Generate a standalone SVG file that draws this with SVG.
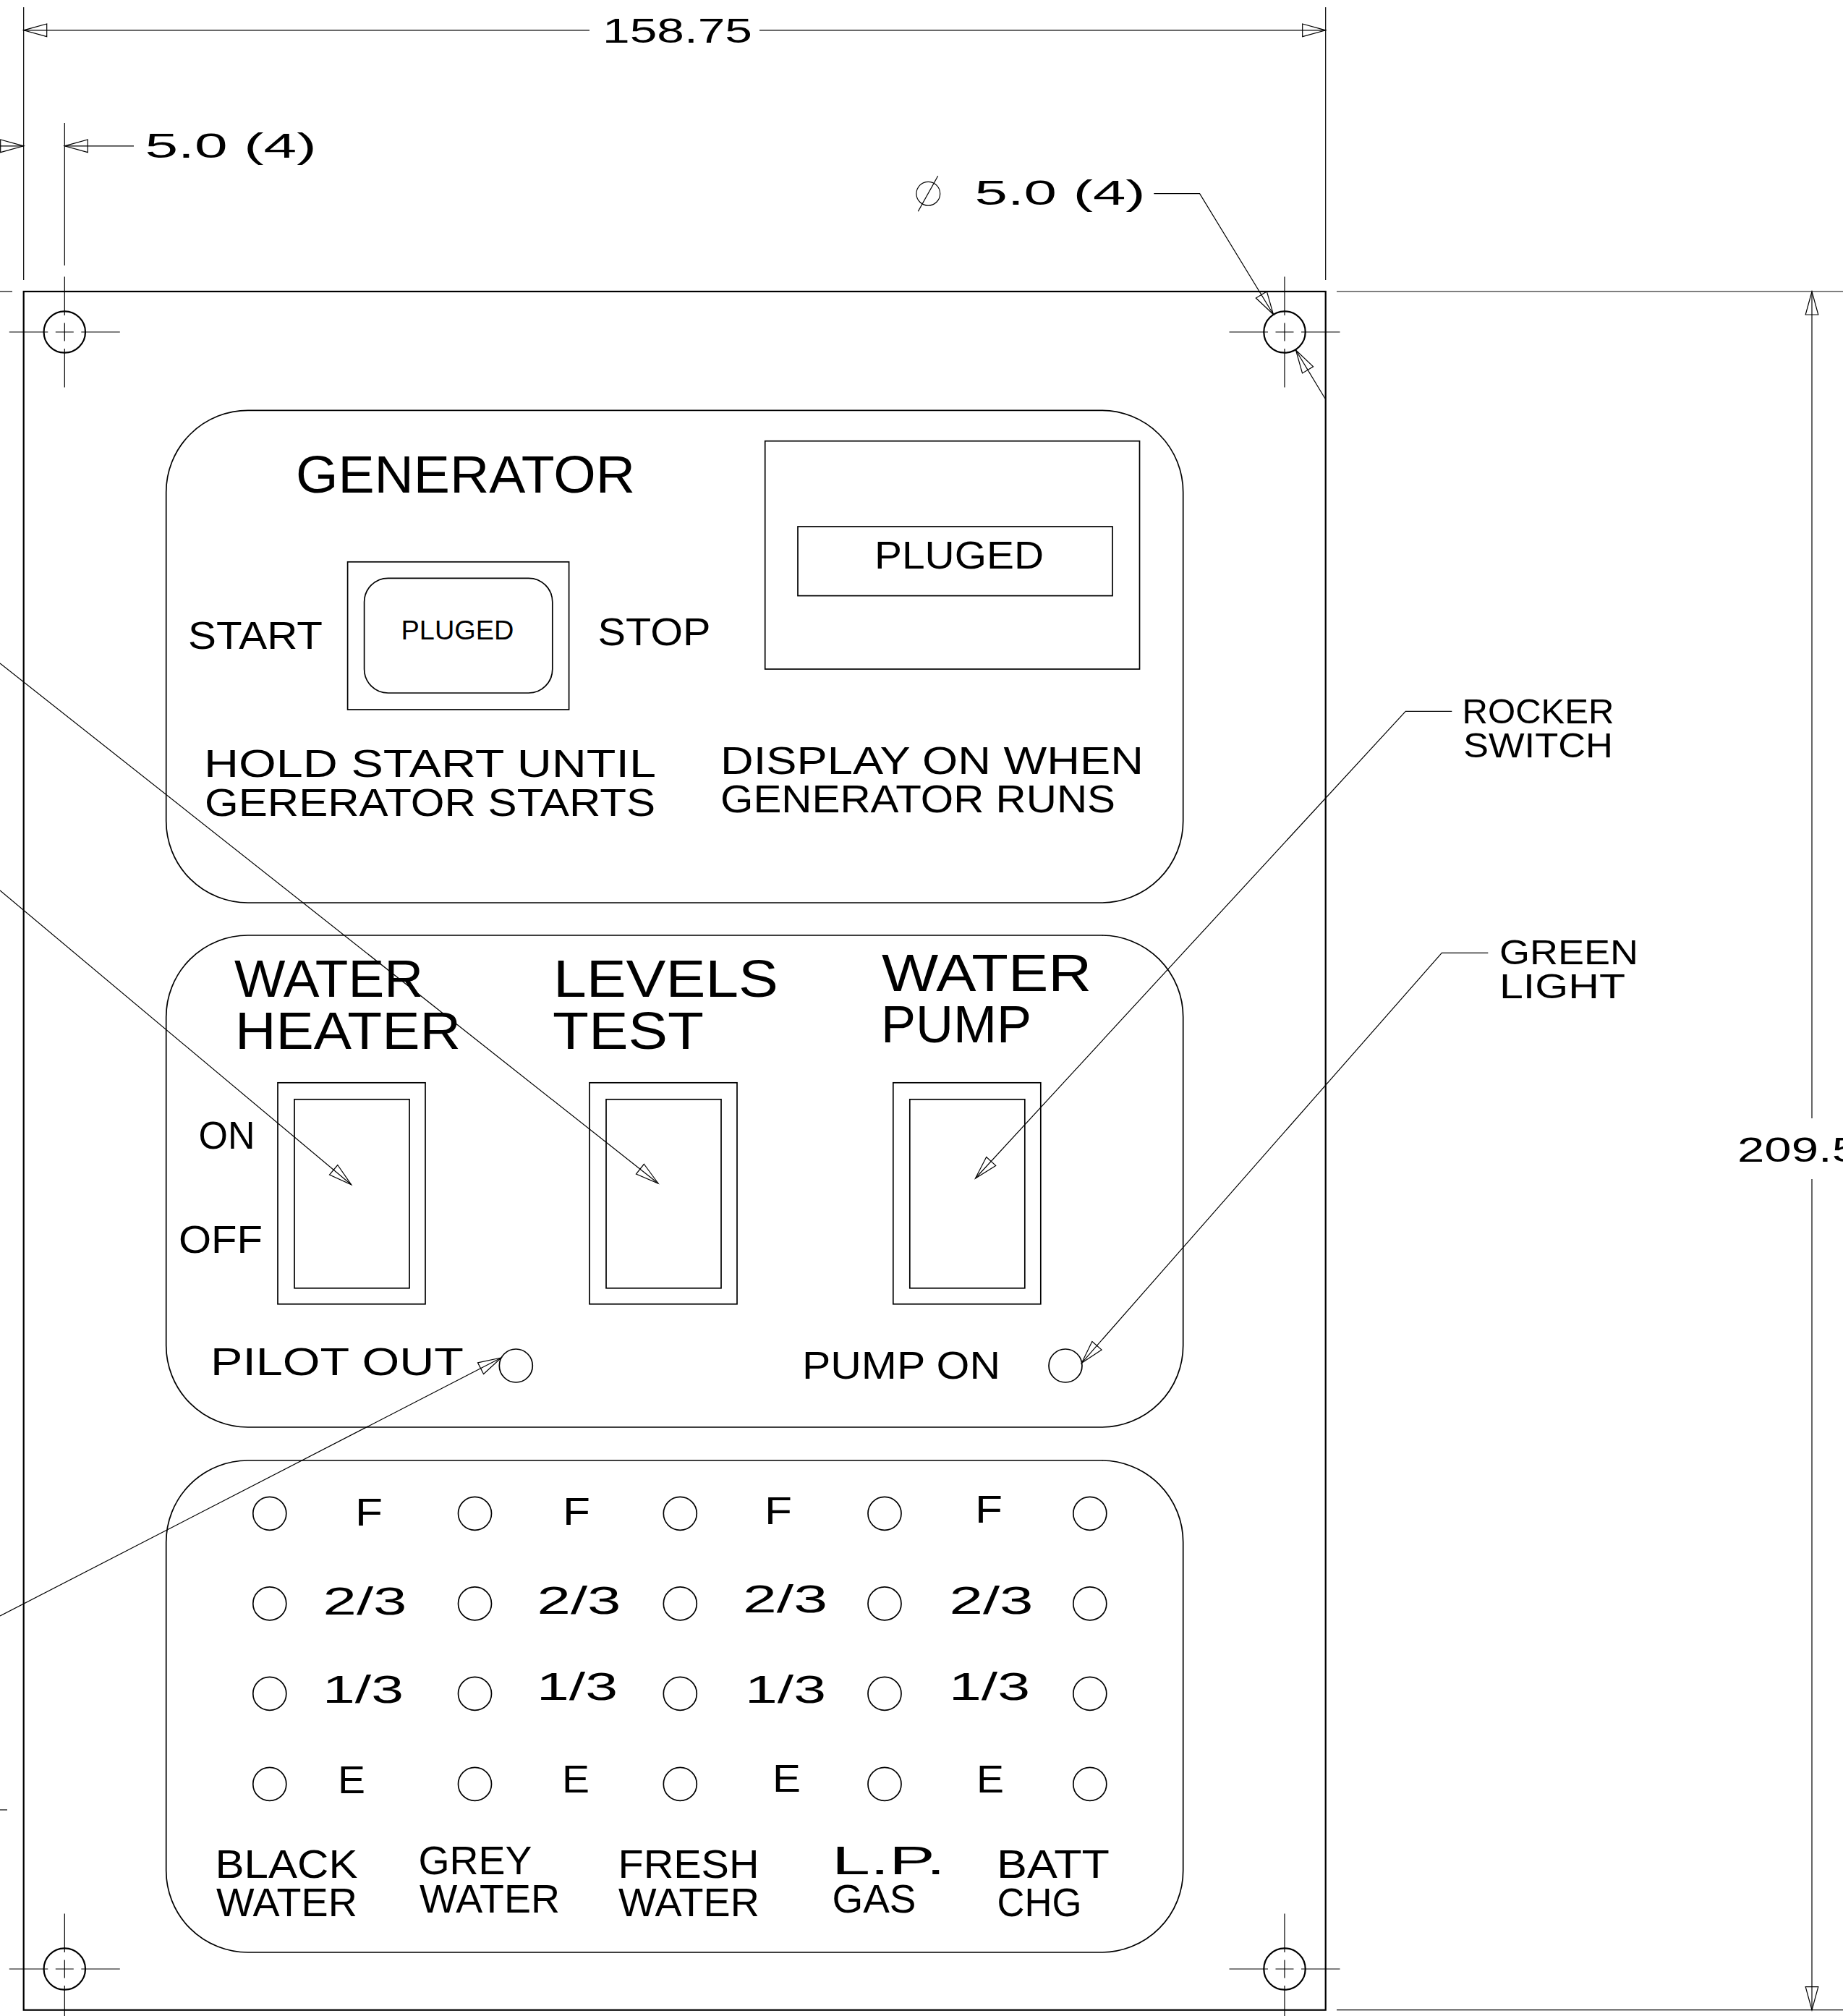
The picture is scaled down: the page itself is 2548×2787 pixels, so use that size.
<svg xmlns="http://www.w3.org/2000/svg" xmlns:xlink="http://www.w3.org/1999/xlink" width="2548" height="2787" viewBox="0 0 2548 2787">
<style>
text{font-family:"Liberation Sans",Arial,sans-serif;fill:#000}
.f35{font-size:36.5px}.f46{font-size:48px}.f51{font-size:53px}.f52{font-size:54px}.f53{font-size:55px}.f69{font-size:72px}
.o{fill:none;stroke:#000}
.s{stroke-width:2.2}.p{stroke-width:1.7}.t{stroke-width:1.2}
line,polyline{fill:none;stroke:#000;stroke-width:1.2}
.a{marker-end:url(#ah)}
</style>
<defs>
<marker id="ah" markerUnits="userSpaceOnUse" markerWidth="36" markerHeight="22" refX="32" refY="11" orient="auto" overflow="visible"><path d="M0,2.2L32,11L0,19.8Z" fill="none" stroke="#000" stroke-width="1.2"/></marker>
<g id="hole">
<circle r="28.7" class="o s"/>
<path d="M-76.5,0H-23M-12.5,0H12.5M23,0H76.5M0,-76.5V-23M0,-12.5V12.5M0,23V76.5" fill="none" stroke="#000" stroke-width="1.2"/>
</g>
<circle id="led" r="23" class="o p"/>
<g id="sw">
<rect width="204" height="306" class="o p"/>
<rect x="23" y="23" width="159" height="261" class="o p"/>
</g>
</defs>
<rect width="2548" height="2787" fill="#fff"/>

<g id="sheet"><rect x="32.7" y="403" width="1800" height="2375.7" class="o s"/></g>
<g id="hole-tl"><use href="#hole" x="89.3" y="459"/></g>
<g id="hole-tr"><use href="#hole" x="1776" y="459"/></g>
<g id="hole-bl"><use href="#hole" x="89.3" y="2722"/></g>
<g id="hole-br"><use href="#hole" x="1776" y="2722"/></g>

<g id="panel-generator">
<rect x="229.7" y="567.4" width="1406" height="680.6" rx="113" class="o p"/>
<text x="409" y="681" class="f69" textLength="469" lengthAdjust="spacingAndGlyphs">GENERATOR</text>
<rect x="480.6" y="776.8" width="306" height="204.2" class="o p"/>
<rect x="503.6" y="799.3" width="260.2" height="158.7" rx="33" class="o p"/>
<text x="554.5" y="884" class="f35" textLength="156" lengthAdjust="spacingAndGlyphs">PLUGED</text>
<text x="260" y="896.6" class="f51" textLength="186" lengthAdjust="spacingAndGlyphs">START</text>
<text x="826.5" y="892" class="f51" textLength="156" lengthAdjust="spacingAndGlyphs">STOP</text>
<text x="282" y="1074" class="f52" textLength="625" lengthAdjust="spacingAndGlyphs">HOLD START UNTIL</text>
<text x="283" y="1127.6" class="f52" textLength="623" lengthAdjust="spacingAndGlyphs">GERERATOR STARTS</text>
<rect x="1057.7" y="609.7" width="517.8" height="315.3" class="o p"/>
<rect x="1103" y="728" width="435" height="95.6" class="o p"/>
<text x="1209" y="785.5" class="f52" textLength="234" lengthAdjust="spacingAndGlyphs">PLUGED</text>
<text x="996" y="1069.7" class="f52" textLength="585" lengthAdjust="spacingAndGlyphs">DISPLAY ON WHEN</text>
<text x="996" y="1123" class="f52" textLength="546" lengthAdjust="spacingAndGlyphs">GENERATOR RUNS</text>
</g>

<g id="panel-switches">
<rect x="229.7" y="1293" width="1406" height="680" rx="113" class="o p"/>
<text x="324" y="1378" class="f69" textLength="261" lengthAdjust="spacingAndGlyphs">WATER</text>
<text x="325" y="1450" class="f69" textLength="312" lengthAdjust="spacingAndGlyphs">HEATER</text>
<text x="765" y="1378" class="f69" textLength="311" lengthAdjust="spacingAndGlyphs">LEVELS</text>
<text x="764" y="1450" class="f69" textLength="209" lengthAdjust="spacingAndGlyphs">TEST</text>
<text x="1219" y="1370" class="f69" textLength="290" lengthAdjust="spacingAndGlyphs">WATER</text>
<text x="1218" y="1441" class="f69" textLength="208" lengthAdjust="spacingAndGlyphs">PUMP</text>
<text x="274.5" y="1587.7" class="f51" textLength="78" lengthAdjust="spacingAndGlyphs">ON</text>
<text x="247" y="1732" class="f51" textLength="116" lengthAdjust="spacingAndGlyphs">OFF</text>
<text x="291" y="1901.3" class="f51" textLength="350" lengthAdjust="spacingAndGlyphs">PILOT OUT</text>
<text x="1109" y="1905.5" class="f52" textLength="274" lengthAdjust="spacingAndGlyphs">PUMP ON</text>
<use href="#sw" x="384" y="1496.8"/>
<use href="#sw" x="815" y="1496.8"/>
<use href="#sw" x="1234.8" y="1496.8"/>
<use href="#led" x="713.3" y="1888"/>
<use href="#led" x="1473" y="1888"/>
</g>

<g id="panel-levels">
<rect x="229.7" y="2019" width="1406" height="680" rx="113" class="o p"/>
<g id="leds">
<use href="#led" x="372.8" y="2092.3"/><use href="#led" x="656.5" y="2092.3"/><use href="#led" x="940.3" y="2092.3"/><use href="#led" x="1223" y="2092.3"/><use href="#led" x="1506.8" y="2092.3"/>
<use href="#led" x="372.8" y="2216.9"/><use href="#led" x="656.5" y="2216.9"/><use href="#led" x="940.3" y="2216.9"/><use href="#led" x="1223" y="2216.9"/><use href="#led" x="1506.8" y="2216.9"/>
<use href="#led" x="372.8" y="2341.4"/><use href="#led" x="656.5" y="2341.4"/><use href="#led" x="940.3" y="2341.4"/><use href="#led" x="1223" y="2341.4"/><use href="#led" x="1506.8" y="2341.4"/>
<use href="#led" x="372.8" y="2466.4"/><use href="#led" x="656.5" y="2466.4"/><use href="#led" x="940.3" y="2466.4"/><use href="#led" x="1223" y="2466.4"/><use href="#led" x="1506.8" y="2466.4"/>
</g>
<text x="491" y="2109.3" class="f52" textLength="38" lengthAdjust="spacingAndGlyphs">F</text>
<text x="778" y="2108" class="f52" textLength="38" lengthAdjust="spacingAndGlyphs">F</text>
<text x="1057" y="2107" class="f52" textLength="38" lengthAdjust="spacingAndGlyphs">F</text>
<text x="1348" y="2105" class="f52" textLength="38" lengthAdjust="spacingAndGlyphs">F</text>
<text x="446.5" y="2232" class="f52" textLength="116" lengthAdjust="spacingAndGlyphs">2/3</text>
<text x="742.5" y="2230.7" class="f52" textLength="116" lengthAdjust="spacingAndGlyphs">2/3</text>
<text x="1027" y="2229.4" class="f52" textLength="117" lengthAdjust="spacingAndGlyphs">2/3</text>
<text x="1312.5" y="2230.7" class="f52" textLength="116" lengthAdjust="spacingAndGlyphs">2/3</text>
<text x="446" y="2354" class="f52" textLength="112" lengthAdjust="spacingAndGlyphs">1/3</text>
<text x="742" y="2350" class="f52" textLength="112" lengthAdjust="spacingAndGlyphs">1/3</text>
<text x="1030" y="2354" class="f52" textLength="112" lengthAdjust="spacingAndGlyphs">1/3</text>
<text x="1312" y="2350" class="f52" textLength="112" lengthAdjust="spacingAndGlyphs">1/3</text>
<text x="467" y="2479" class="f52" textLength="38" lengthAdjust="spacingAndGlyphs">E</text>
<text x="777" y="2477.6" class="f52" textLength="38" lengthAdjust="spacingAndGlyphs">E</text>
<text x="1068" y="2476.7" class="f52" textLength="39" lengthAdjust="spacingAndGlyphs">E</text>
<text x="1350" y="2478" class="f52" textLength="38" lengthAdjust="spacingAndGlyphs">E</text>
<text x="297.5" y="2596" class="f53" textLength="197" lengthAdjust="spacingAndGlyphs">BLACK</text>
<text x="299" y="2648.6" class="f53" textLength="195" lengthAdjust="spacingAndGlyphs">WATER</text>
<text x="578.5" y="2591.4" class="f53" textLength="157" lengthAdjust="spacingAndGlyphs">GREY</text>
<text x="580" y="2644" class="f53" textLength="194" lengthAdjust="spacingAndGlyphs">WATER</text>
<text x="854.5" y="2596" class="f53" textLength="195" lengthAdjust="spacingAndGlyphs">FRESH</text>
<text x="855" y="2648.6" class="f53" textLength="195" lengthAdjust="spacingAndGlyphs">WATER</text>
<text x="1150" y="2591.4" class="f53" textLength="157" lengthAdjust="spacingAndGlyphs">L.P.</text>
<text x="1150.5" y="2644" class="f53" textLength="116" lengthAdjust="spacingAndGlyphs">GAS</text>
<text x="1378" y="2596" class="f53" textLength="156" lengthAdjust="spacingAndGlyphs">BATT</text>
<text x="1378.5" y="2648.6" class="f53" textLength="117" lengthAdjust="spacingAndGlyphs">CHG</text>
</g>

<g id="label-rocker">
<text x="2021.5" y="999.7" class="f46" textLength="210" lengthAdjust="spacingAndGlyphs">ROCKER</text>
<text x="2023" y="1046.7" class="f46" textLength="207" lengthAdjust="spacingAndGlyphs">SWITCH</text>
</g>
<g id="label-green">
<text x="2073" y="1333" class="f46" textLength="192" lengthAdjust="spacingAndGlyphs">GREEN</text>
<text x="2073" y="1380" class="f46" textLength="174" lengthAdjust="spacingAndGlyphs">LIGHT</text>
</g>
<g id="dim-width"><text x="833" y="58.6" class="f46" textLength="207" lengthAdjust="spacingAndGlyphs">158.75</text></g>
<g id="dim-offset"><text x="200.5" y="218" class="f46" textLength="237" lengthAdjust="spacingAndGlyphs">5.0 (4)</text></g>
<g id="dim-hole">
<circle cx="1283.3" cy="267.7" r="16.4" class="o t"/>
<line x1="1269.3" y1="292.3" x2="1296.7" y2="243.3"/>
<text x="1347.5" y="283.3" class="f46" textLength="236" lengthAdjust="spacingAndGlyphs">5.0 (4)</text>
</g>
<g id="dim-height"><text x="2402" y="1606" class="f46" textLength="168" lengthAdjust="spacingAndGlyphs">209.5</text></g>

<g id="connectors">
<line x1="32.7" y1="10" x2="32.7" y2="387"/>
<line x1="89.3" y1="170" x2="89.3" y2="367"/>
<line x1="1832.7" y1="10" x2="1832.7" y2="387"/>
<line x1="0" y1="403" x2="17" y2="403"/>
<line x1="1848" y1="403" x2="2548" y2="403"/>
<line x1="1848" y1="2778.7" x2="2548" y2="2778.7"/>
<line x1="0" y1="2502" x2="10" y2="2502"/>
<line class="a" x1="815" y1="41.8" x2="32.7" y2="41.8"/>
<line class="a" x1="1050" y1="41.8" x2="1832.7" y2="41.8"/>
<line class="a" x1="0" y1="201.8" x2="32.7" y2="201.8"/>
<line class="a" x1="185" y1="201.8" x2="89.3" y2="201.8"/>
<line class="a" x1="2505" y1="1546" x2="2505" y2="403"/>
<line class="a" x1="2505" y1="1630" x2="2505" y2="2778.7"/>
<polyline class="a" points="1595.3,267.7 1658.6,267.7 1760.5,434.8"/>
<line class="a" x1="1832" y1="551" x2="1791.5" y2="484"/>
<line class="a" x1="0" y1="917" x2="910" y2="1636"/>
<line class="a" x1="0" y1="1231" x2="485.7" y2="1637.8"/>
<line class="a" x1="0" y1="2234" x2="693" y2="1877"/>
<polyline class="a" points="2007.3,983.3 1943.3,983.3 1348.5,1629"/>
<polyline class="a" points="2057.3,1317.3 1993.3,1317.3 1495.4,1884.3"/>
</g>
</svg>
